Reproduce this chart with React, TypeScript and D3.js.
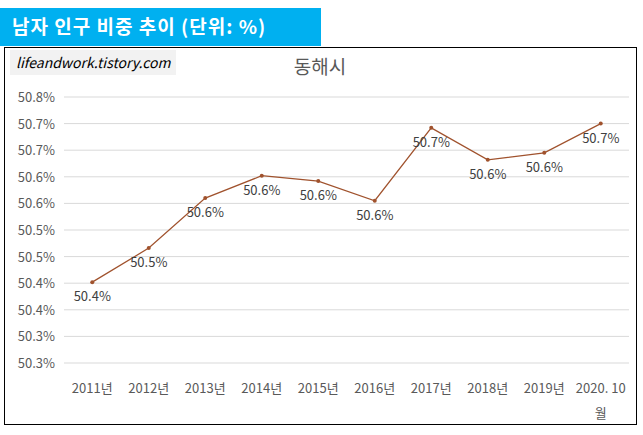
import { useEffect, useRef } from 'react';
import * as d3 from 'd3';

const categories = ['2011년', '2012년', '2013년', '2014년', '2015년', '2016년', '2017년', '2018년', '2019년', '2020. 10월'];
const values = [50.452, 50.516, 50.61, 50.652, 50.642, 50.605, 50.742, 50.682, 50.695, 50.75];
const valueLabels = ['50.4%', '50.5%', '50.6%', '50.6%', '50.6%', '50.6%', '50.7%', '50.6%', '50.6%', '50.7%'];
const tickValues = [50.3, 50.35, 50.4, 50.45, 50.5, 50.55, 50.6, 50.65, 50.7, 50.75, 50.8];
const tickLabels = ['50.3%', '50.3%', '50.4%', '50.4%', '50.5%', '50.5%', '50.6%', '50.6%', '50.7%', '50.7%', '50.8%'];

const App = () => {
  const svgRef = useRef<SVGSVGElement | null>(null);

  useEffect(() => {
    const svg = d3.select(svgRef.current);
    svg.selectAll('*').remove();
    const font = "'Malgun Gothic', 'Noto Sans CJK KR', sans-serif";

    // header
    svg.append('rect').attr('x', 0).attr('y', 8).attr('width', 321).attr('height', 38).attr('fill', '#00B0F0');
    svg.append('text').attr('x', 12).attr('y', 34).attr('fill', '#fff').attr('font-size', 19)
      .attr('letter-spacing', 1).attr('font-weight', 'bold').attr('font-family', font)
      .text('남자 인구 비중 추이 (단위: %)');

    // chart frame
    svg.append('rect').attr('x', 4.5).attr('y', 47.5).attr('width', 632).attr('height', 377)
      .attr('fill', '#fff').attr('stroke', '#000');

    // watermark
    svg.append('rect').attr('x', 10).attr('y', 50).attr('width', 166).attr('height', 25).attr('fill', '#F2F2F2');
    svg.append('text').attr('x', 16).attr('y', 68).attr('font-size', 14).attr('font-style', 'italic')
      .attr('font-family', font).attr('fill', '#000').text('lifeandwork.tistory.com');

    svg.append('text').attr('x', 320).attr('y', 74).attr('text-anchor', 'middle').attr('font-size', 19)
      .attr('font-family', font).attr('fill', '#595959').text('동해시');

    const x = d3.scaleBand().domain(categories).range([64, 629]);
    const y = d3.scaleLinear().domain([50.3, 50.8]).range([363, 97]);

    // grid + y labels
    tickValues.forEach((t, i) => {
      svg.append('line').attr('x1', 64).attr('x2', 629).attr('y1', y(t)).attr('y2', y(t))
        .attr('stroke', '#D9D9D9');
      svg.append('text').attr('x', 55).attr('y', y(t) + 5).attr('text-anchor', 'end')
        .attr('font-size', 13).attr('font-family', font).attr('fill', '#595959').text(tickLabels[i]);
    });

    // x labels
    categories.forEach(c => {
      const cx = x(c)! + x.bandwidth() / 2;
      const parts = c === '2020. 10월' ? ['2020. 10', '월'] : [c];
      parts.forEach((p, j) => {
        svg.append('text').attr('x', cx).attr('y', 393 + j * 25).attr('text-anchor', 'middle')
          .attr('font-size', 13).attr('font-family', font).attr('fill', '#595959').text(p);
      });
    });

    const px = (i: number) => x(categories[i])! + x.bandwidth() / 2;
    const line = d3.line<number>().x((_, i) => px(i)).y(d => y(d));
    svg.append('path').datum(values).attr('d', line).attr('fill', 'none')
      .attr('stroke', '#A0522D').attr('stroke-width', 1.25);

    svg.selectAll('.pt').data(values).enter().append('circle')
      .attr('cx', (_, i) => px(i)).attr('cy', d => y(d)).attr('r', 2).attr('fill', '#A0522D');

    svg.selectAll('.lbl').data(values).enter().append('text')
      .attr('x', (_, i) => px(i)).attr('y', d => y(d) + 19).attr('text-anchor', 'middle')
      .attr('font-size', 13).attr('font-family', font).attr('fill', '#404040')
      .text((_, i) => valueLabels[i]);
  }, []);

  return (
    <div style={{ position: 'absolute', left: 0, top: 0 }}>
      <svg ref={svgRef} width={643} height={435} style={{ display: 'block' }}></svg>
    </div>
  );
};

export default App;
